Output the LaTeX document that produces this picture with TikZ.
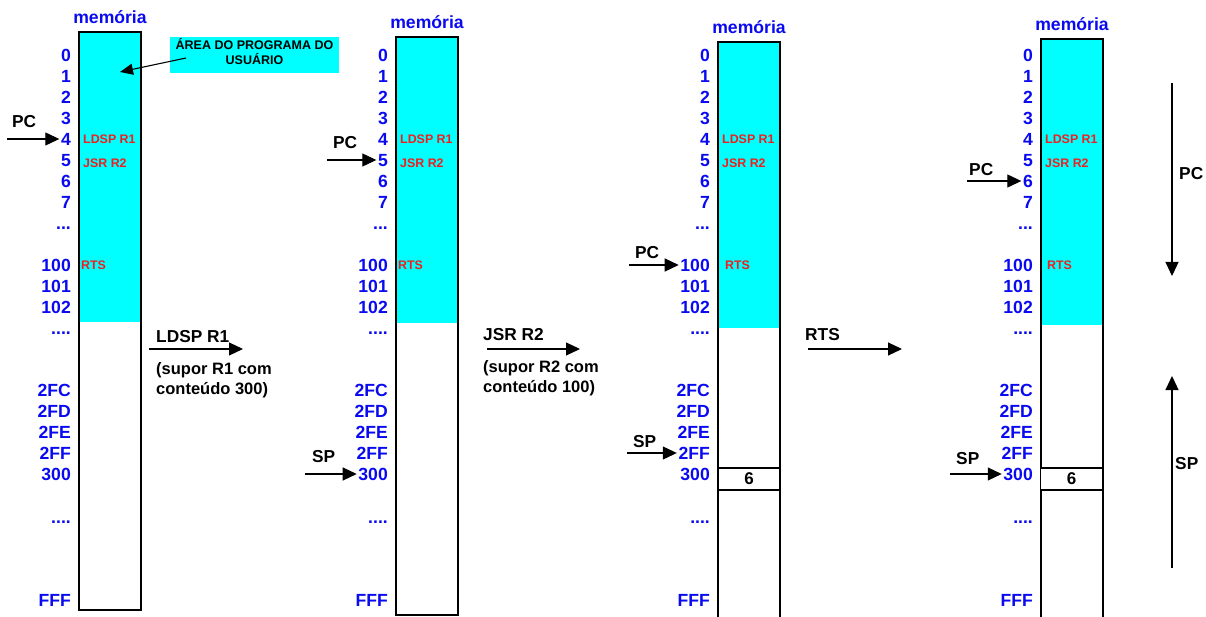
\documentclass[tikz,border=0pt]{standalone}
\usepackage{fontspec}
\setmainfont{Liberation Sans}
\usetikzlibrary{arrows.meta,positioning}
\definecolor{addr}{HTML}{0A0AF0}
\definecolor{instr}{HTML}{F01E1E}
\definecolor{prog}{HTML}{00FFFF}
\newcommand{\threedots}{...}
\newcommand{\fourdots}{....}
\tikzset{
  adr/.style={anchor=east, inner sep=1.5pt, text=addr, text height=12.5pt, text depth=0pt,
              font=\fontsize{17.6}{20}\selectfont\bfseries},
  memlbl/.style={inner sep=0pt, text=addr, font=\fontsize{17.6}{20}\selectfont\bfseries},
  ins/.style={anchor=west, inner sep=0pt, text=instr, text height=8.9pt, text depth=0pt,
              font=\fontsize{12.4}{14}\selectfont\bfseries},
  lbl/.style={anchor=west, inner sep=0pt, text height=12.4pt, text depth=0pt,
              font=\fontsize{17.3}{20}\selectfont\bfseries},
  note/.style={anchor=west, inner sep=0pt, text height=11.8pt, text depth=0pt,
               font=\fontsize{16.5}{20}\selectfont\bfseries},
  cell/.style={draw, line width=1.3pt, fill=white, minimum width=62pt, minimum height=22pt,
               inner sep=0pt, font=\fontsize{17}{20}\selectfont\bfseries},
  memline/.style={draw=black, line width=1.3pt},
  arr/.style={-{Triangle[length=14pt,width=13pt]}, line width=1.1pt},
}
\begin{document}
\begin{tikzpicture}[x=1pt, y=-1pt]
  \useasboundingbox (0,0) rectangle (1206,617);
  \clip (0,0) rectangle (1206,617);
  % four snapshots of the memory
  \foreach \p/\x/\t/\c/\b/\r in {1/79/32/322/610/2, 2/396/37/323/615/2,
                                 3/718/42/328/630/7, 4/1041/39/325/630/6} {
    \fill[prog] (\x,\t) rectangle (\x+62,\c);
    \draw[memline] (\x,\t) rectangle (\x+62,\b);
    \node[memlbl] (mem\p) at (\x+31,\t-15) {memória};
    \foreach \a/\y [count=\i] in {0/55, 1/76, 2/97, 3/118, 4/139, 5/160, 6/181, 7/202,
                                  \threedots/223, 100/265, 101/286, 102/307, \fourdots/328,
                                  2FC/390, 2FD/411, 2FE/432, 2FF/453, 300/474,
                                  \fourdots/517, FFF/600}
      \node[adr] (a\p-\i) at (\x-6.5,\y) {\a};
    \node[ins] (ld\p) at (\x+4,139) {LDSP R1};
    \node[ins] (js\p) at (\x+4,163) {JSR R2};
    \node[ins] (rt\p) at (\x+\r,265) {RTS};
  }
  \node[cell] (c3) at (749,479) {6};
  \node[cell] (c4) at (1071.5,479) {6};

  % callout
  \node[fill=prog, minimum width=169pt, minimum height=36pt, inner sep=0pt] (callout) at (254.5,55) {};
  \node[align=center, inner sep=0pt, font=\fontsize{12.5}{15}\selectfont\bfseries] (calltxt) at (254.5,51.5)
       {ÁREA DO PROGRAMA DO\\USUÁRIO};
  \coordinate (ctail) at (186,58);
  \coordinate (chead) at (120,72);
  \draw[arr, -{Triangle[length=13pt,width=11pt]}] (ctail) -- (chead);

  % PC and SP pointers
  \coordinate (pc1) at (7,139);    \node[lbl] (pcl1) at (12,121) {PC};
  \coordinate (pc2) at (327,160);  \node[lbl] (pcl2) at (333,142) {PC};
  \coordinate (pc3) at (629,265);  \node[lbl] (pcl3) at (635,252) {PC};
  \coordinate (pc4) at (967,181);  \node[lbl] (pcl4) at (969,169) {PC};
  \coordinate (sp2) at (305,474);  \node[lbl] (spl2) at (312,456) {SP};
  \coordinate (sp3) at (627,453);  \node[lbl] (spl3) at (633,441) {SP};
  \coordinate (sp4) at (950,474);  \node[lbl] (spl4) at (956,458) {SP};
  \draw[arr] (pc1) -- (a1-5.west);
  \draw[arr] (pc2) -- (a2-6.west);
  \draw[arr] (pc3) -- (a3-10.west);
  \draw[arr] (pc4) -- (a4-7.west);
  \draw[arr] (sp2) -- (a2-18.west);
  \draw[arr] (sp3) -- (a3-17.west);
  \draw[arr] (sp4) -- (a4-18.west);

  % transitions
  \node[lbl] (t1) at (156,336) {LDSP R1};
  \node[note] (n1a) at (156,369) {(supor R1 com};
  \node[note] (n1b) at (156,389) {conteúdo 300)};
  \coordinate (t1s) at (149,349); \coordinate (t1e) at (243,349);
  \draw[arr] (t1s) -- (t1e);
  \node[lbl] (t2) at (483,334) {JSR R2};
  \node[note] (n2a) at (483,367) {(supor R2 com};
  \node[note] (n2b) at (483,387) {conteúdo 100)};
  \coordinate (t2s) at (487,349); \coordinate (t2e) at (580,349);
  \draw[arr] (t2s) -- (t2e);
  \node[lbl] (t3) at (805,334) {RTS};
  \coordinate (t3s) at (808,349); \coordinate (t3e) at (902,349);
  \draw[arr] (t3s) -- (t3e);

  % growth directions
  \coordinate (pcd1) at (1172,83);  \coordinate (pcd2) at (1172,276);
  \coordinate (spd1) at (1172,568); \coordinate (spd2) at (1172,376);
  \draw[arr] (pcd1) -- (pcd2);
  \draw[arr] (spd1) -- (spd2);
  \node[lbl] (pcdir) at (1179,173) {PC};
  \node[lbl] (spdir) at (1175,463) {SP};
\end{tikzpicture}
\end{document}
